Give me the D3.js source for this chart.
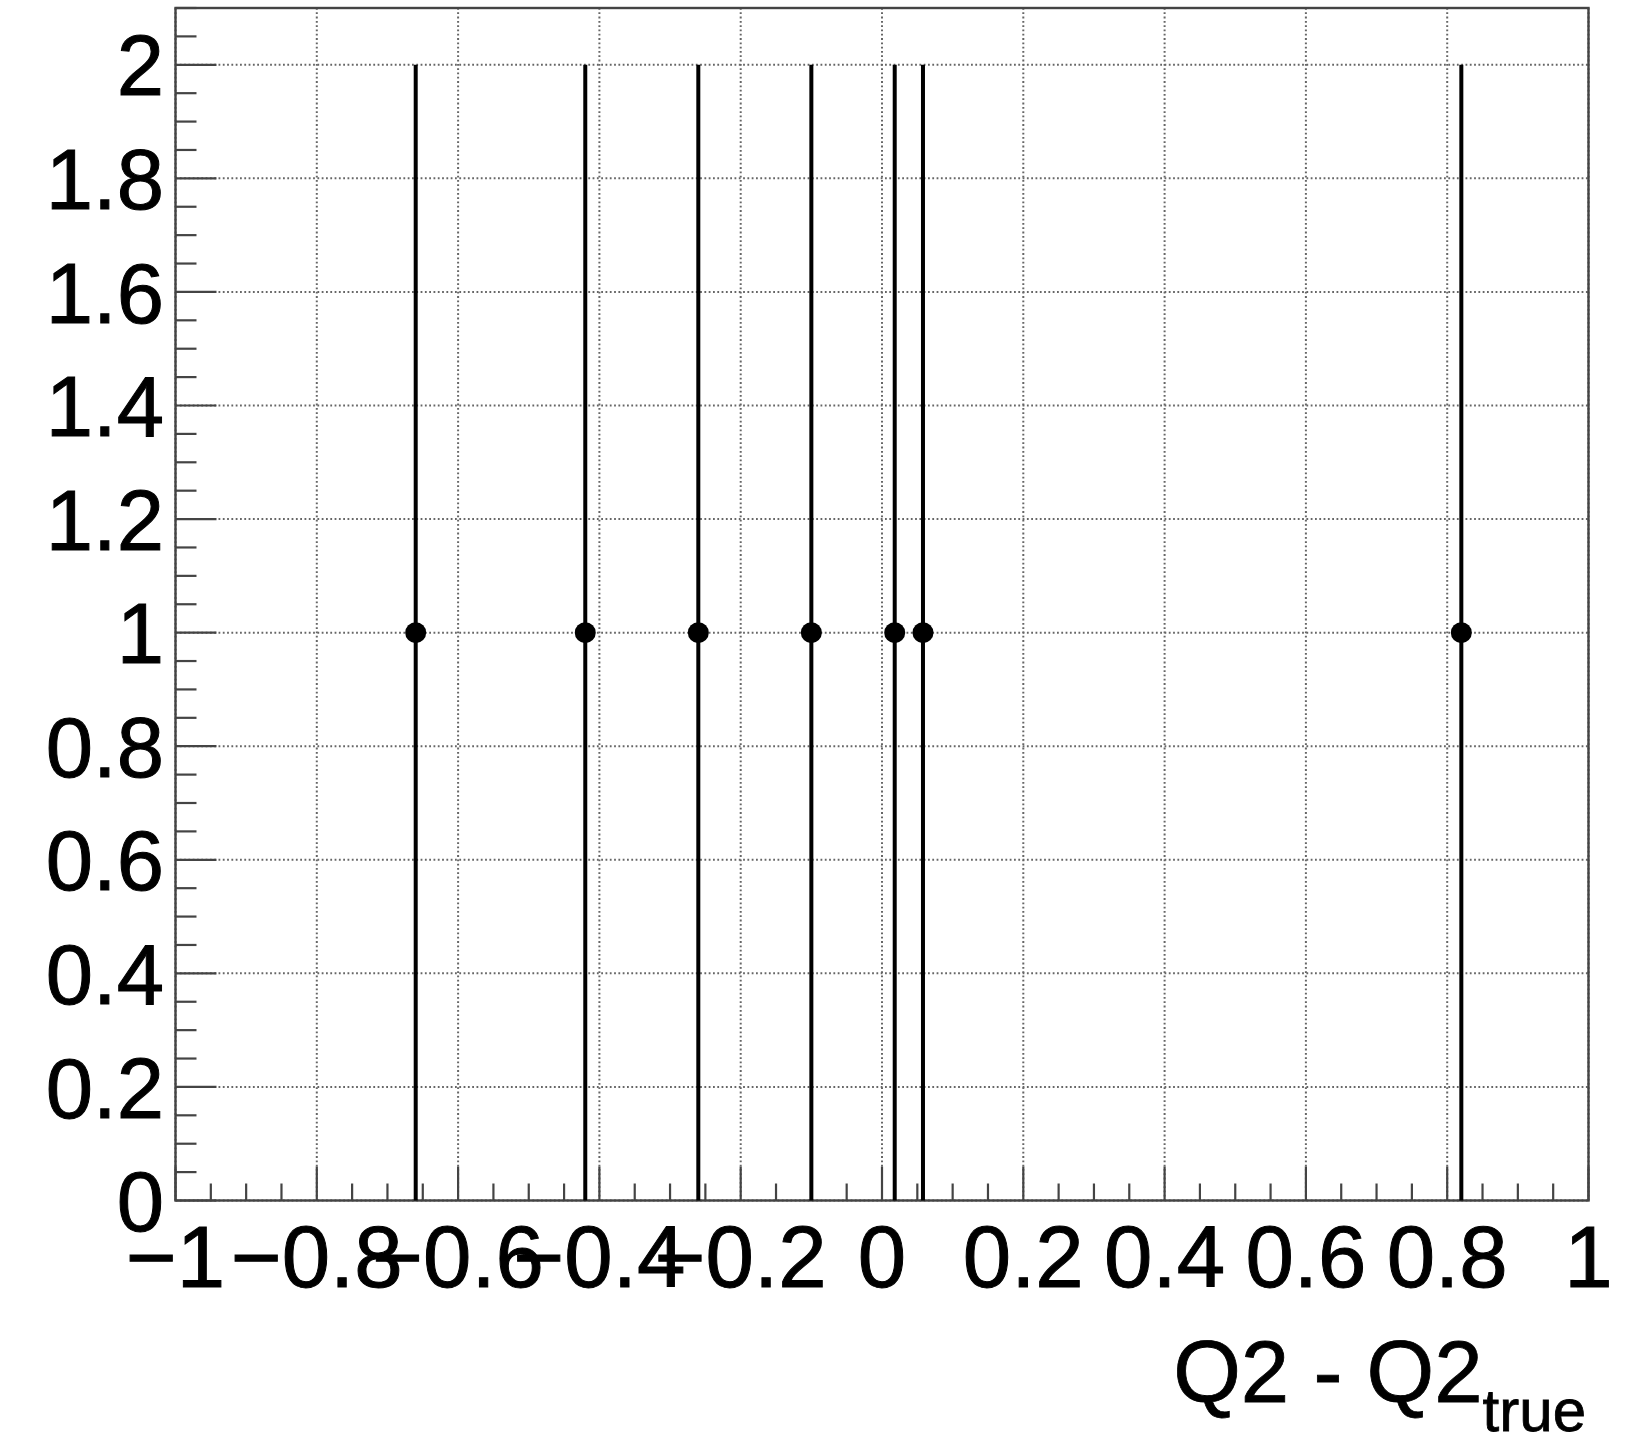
<!DOCTYPE html>
<html>
<head>
<meta charset="utf-8">
<script src="https://cdn.jsdelivr.net/npm/d3@7"></script>
<style>
  body { margin: 0; background: #fff; }
  svg { display: block; font-family: "Liberation Sans", Arial, Helvetica, sans-serif; }
</style>
</head>
<body>
<svg id="chart" width="1650" height="1444"></svg>
<script>
// residuals, all with content 1 and error 1
const xValues = [-0.66, -0.42, -0.26, -0.10, 0.018, 0.058, 0.82];
const yValues = [1, 1, 1, 1, 1, 1, 1];
const yErrors = [1, 1, 1, 1, 1, 1, 1];

const xTicks = [-1, -0.8, -0.6, -0.4, -0.2, 0, 0.2, 0.4, 0.6, 0.8, 1];
const yTicks = [0, 0.2, 0.4, 0.6, 0.8, 1, 1.2, 1.4, 1.6, 1.8, 2];

const svg = d3.select("#chart");
const frame = { left: 175.5, right: 1588.5, top: 8, bottom: 1200.5 };

const x = d3.scaleLinear().domain([-1, 1]).range([frame.left, frame.right]);
const y = d3.scaleLinear().domain([0, 2.1]).range([frame.bottom, frame.top]);

const fmt = v => (v < 0 ? "\u2212" : "") + d3.format("~g")(Math.abs(v));
const isMajor = d => Math.abs(d * 5 - Math.round(d * 5)) < 1e-6;

// dotted grid
const grid = svg.append("g")
    .attr("stroke", "#666")
    .attr("stroke-width", 2)
    .attr("stroke-dasharray", "1.8,2.5");

grid.selectAll(".gx").data(xTicks).enter().append("line")
    .attr("x1", d => x(d)).attr("x2", d => x(d))
    .attr("y1", frame.top).attr("y2", frame.bottom);

grid.selectAll(".gy").data(yTicks).enter().append("line")
    .attr("x1", frame.left).attr("x2", frame.right)
    .attr("y1", d => y(d)).attr("y2", d => y(d));

// ticks
const minorX = d3.range(-1, 1.0001, 0.05).map(v => Math.round(v * 100) / 100);
const minorY = d3.range(0, 2.1001, 0.05).map(v => Math.round(v * 100) / 100);
const tickG = svg.append("g").attr("stroke", "#444").attr("stroke-width", 2.2);

tickG.selectAll(".tx").data(minorX).enter().append("line")
    .attr("x1", d => x(d)).attr("x2", d => x(d))
    .attr("y1", frame.bottom)
    .attr("y2", d => frame.bottom - (isMajor(d) ? 34 : 17));

tickG.selectAll(".ty").data(minorY).enter().append("line")
    .attr("y1", d => y(d)).attr("y2", d => y(d))
    .attr("x1", frame.left)
    .attr("x2", d => frame.left + (isMajor(d) ? 41 : 21));

// frame
svg.append("rect")
    .attr("x", frame.left).attr("y", frame.top)
    .attr("width", frame.right - frame.left)
    .attr("height", frame.bottom - frame.top)
    .attr("fill", "none")
    .attr("stroke", "#444")
    .attr("stroke-width", 2.4);

// tick labels
svg.append("g").selectAll("text").data(yTicks).enter().append("text")
    .attr("x", 164)
    .attr("y", d => y(d))
    .attr("dy", "0.36em")
    .attr("text-anchor", "end")
    .attr("font-size", 85)
    .attr("stroke", "#000").attr("stroke-width", 1)
    .text(fmt);

svg.append("g").selectAll("text").data(xTicks).enter().append("text")
    .attr("x", d => x(d))
    .attr("y", 1287)
    .attr("text-anchor", "middle")
    .attr("font-size", 87)
    .attr("stroke", "#000").attr("stroke-width", 1)
    .text(fmt);

// axis title
const title = svg.append("text")
    .attr("x", 1586)
    .attr("y", 1402)
    .attr("text-anchor", "end")
    .attr("font-size", 87)
    .attr("stroke", "#000").attr("stroke-width", 0.8);
title.append("tspan").text("Q2 - Q2");
title.append("tspan").attr("font-size", 60).attr("dy", 29).text("true");

// error bars and markers
const pts = xValues.map((v, i) => ({ x: v, y: yValues[i], e: yErrors[i] }));

svg.append("g").selectAll("line").data(pts).enter().append("line")
    .attr("x1", d => x(d.x)).attr("x2", d => x(d.x))
    .attr("y1", d => y(d.y - d.e)).attr("y2", d => y(d.y + d.e))
    .attr("stroke", "#000")
    .attr("stroke-width", 4);

svg.append("g").selectAll("circle").data(pts).enter().append("circle")
    .attr("cx", d => x(d.x))
    .attr("cy", d => y(d.y))
    .attr("r", 10.5)
    .attr("fill", "#000");
</script>
</body>
</html>
